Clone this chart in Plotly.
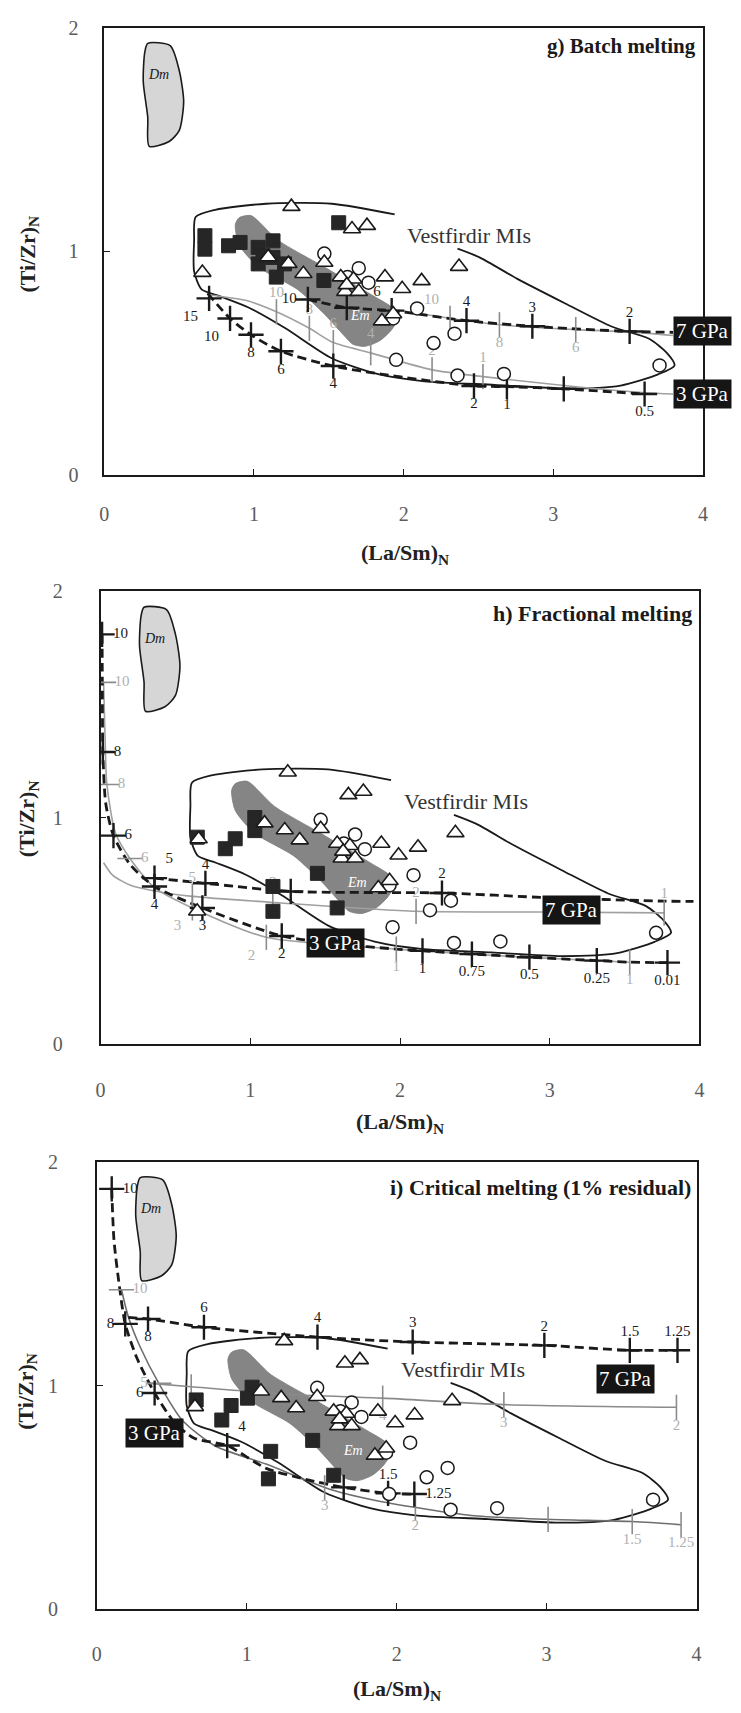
import plotly.graph_objects as go

FONT = "Liberation Serif"
INK = "#1a1a1a"
GREY_LINE = "#a0a0a0"
GREY_TICK = "#8c8c8c"
GREY_TEXT = "#b0b0b0"

# ---------------- fields (same in all three diagrams) ----------------
DM_X = [0.29, 0.44, 0.50, 0.53, 0.50, 0.43, 0.30, 0.29, 0.26, 0.27, 0.29]
DM_Y = [1.93, 1.92, 1.81, 1.67, 1.54, 1.49, 1.47, 1.60, 1.76, 1.89, 1.93]

EM_X = [0.90, 0.98, 1.16, 1.47, 1.80, 1.93, 1.96, 1.92, 1.84, 1.74, 1.66, 1.60, 1.47, 1.29, 1.03, 0.90,
        0.875, 0.90]
EM_Y = [1.15, 1.16, 1.05, 0.93, 0.80, 0.745, 0.70, 0.65, 0.60, 0.575, 0.585, 0.625, 0.72, 0.83, 0.93,
        1.03, 1.12, 1.15]

VEST_X = [1.94, 1.52, 1.08, 0.74, 0.61, 0.60, 0.60, 0.65, 0.77, 0.96, 1.21, 1.52, 1.83, 2.14, 2.61,
          3.08, 3.45, 3.70, 3.81, 3.76, 3.64, 3.39, 3.08, 2.76, 2.51, 2.36]
VEST_Y = [1.165, 1.213, 1.213, 1.186, 1.154, 1.05, 0.91, 0.83, 0.80, 0.75, 0.656, 0.522, 0.451, 0.419, 0.403,
          0.387, 0.40, 0.45, 0.49, 0.545, 0.609, 0.664, 0.767, 0.877, 0.972, 1.012]

# ---------------- melt inclusion data ----------------
TRI_X = [1.25, 1.655, 1.755, 0.655, 1.095, 1.23, 1.33, 1.47, 1.58, 1.665, 1.61, 1.70, 1.875, 1.99, 2.12,
         2.37, 1.855, 1.93, 1.62]
TRI_Y = [1.20, 1.10, 1.115, 0.905, 0.975, 0.945, 0.90, 0.95, 0.885, 0.875, 0.82, 0.82, 0.885, 0.833, 0.868,
         0.932, 0.688, 0.72, 0.85]
TRI_EXTRA_H_X = [0.645]
TRI_EXTRA_H_Y = [0.585]

CIRC_X = [1.47, 1.70, 1.765, 1.625, 2.09, 2.34, 2.20, 1.95, 2.36, 2.67, 3.71, 1.93]
CIRC_Y = [0.99, 0.925, 0.86, 0.885, 0.745, 0.632, 0.59, 0.515, 0.445, 0.452, 0.49, 0.70]

G_SQ_X = [0.672, 0.672, 0.83, 0.907, 1.028, 1.127, 1.028, 1.127, 1.149, 1.204, 1.467, 1.566, 1.06]
G_SQ_Y = [1.07, 1.01, 1.025, 1.04, 1.018, 1.047, 0.944, 0.973, 0.885, 0.944, 0.87, 1.128, 0.98]
H_SQ_X = [0.646, 0.833, 0.899, 1.03, 1.03, 1.151, 1.151, 1.448, 1.58]
H_SQ_Y = [0.913, 0.862, 0.906, 1.00, 0.942, 0.695, 0.585, 0.753, 0.60]
I_SQ_X = [0.663, 0.834, 0.896, 1.036, 1.005, 1.16, 1.145, 1.44, 1.58]
I_SQ_Y = [0.936, 0.846, 0.911, 0.993, 0.944, 0.706, 0.583, 0.755, 0.599]

# ---------------- g) batch melting models ----------------
G_7B_X = [1.36, 1.62, 1.92, 2.42, 2.86, 3.51, 3.80]
G_7B_Y = [0.785, 0.748, 0.735, 0.690, 0.665, 0.642, 0.638]
G_7B_TX = [1.36, 1.62, 1.92, 2.42, 2.86, 3.51]
G_7B_TY = [0.785, 0.748, 0.735, 0.690, 0.665, 0.642]
G_7B_TL = ["10", "", "6", "4", "3", "2"]

G_7G_X = [1.92, 2.31, 2.64, 3.15, 3.51, 3.80]
G_7G_Y = [0.742, 0.700, 0.672, 0.650, 0.640, 0.624]
G_7G_TX = [2.31, 2.64, 3.15]
G_7G_TY = [0.700, 0.672, 0.650]
G_7G_TL = ["10", "8", "6"]

G_3B_X = [0.69, 0.84, 0.98, 1.18, 1.53, 1.86, 2.47, 2.69, 3.07, 3.61]
G_3B_Y = [0.812, 0.700, 0.627, 0.553, 0.487, 0.450, 0.398, 0.395, 0.385, 0.362]
G_3B_TX = [0.70, 0.84, 0.98, 1.18, 1.53, 2.47, 2.69, 3.07, 3.61]
G_3B_TY = [0.790, 0.700, 0.627, 0.553, 0.487, 0.398, 0.395, 0.385, 0.362]
G_3B_TL = ["15", "10", "8", "6", "4", "2", "1", "", "0.5"]

G_3G_X = [0.70, 0.95, 1.15, 1.37, 1.53, 1.78, 2.19, 2.53, 3.07, 3.61, 3.80]
G_3G_Y = [0.805, 0.780, 0.730, 0.656, 0.592, 0.546, 0.470, 0.440, 0.400, 0.368, 0.362]
G_3G_TX = [1.15, 1.37, 1.53, 1.78, 2.19, 2.53]
G_3G_TY = [0.730, 0.656, 0.592, 0.546, 0.470, 0.440]
G_3G_TL = ["10", "8", "6", "4", "2", "1"]

# ---------------- h) fractional melting models ----------------
H_3B_X = [0.010, 0.012, 0.015, 0.035, 0.086, 0.20, 0.36, 0.68, 1.21, 1.60, 1.975, 2.15, 2.48, 2.864,
          3.314, 3.534, 3.786]
H_3B_Y = [1.81, 1.55, 1.29, 1.06, 0.92, 0.79, 0.695, 0.600, 0.476, 0.440, 0.418, 0.410, 0.396, 0.382,
          0.367, 0.360, 0.358]
H_3B_TX = [0.010, 0.015, 0.086, 0.36, 0.68, 1.21, 2.15, 2.48, 2.864, 3.314, 3.786]
H_3B_TY = [1.81, 1.29, 0.92, 0.695, 0.600, 0.476, 0.410, 0.396, 0.382, 0.367, 0.358]
H_3B_TL = ["10", "8", "6", "4", "3", "2", "1", "0.75", "0.5", "0.25", "0.01"]

H_3G_X = [0.020, 0.030, 0.042, 0.10, 0.196, 0.36, 0.613, 1.107, 1.975, 2.90, 3.534]
H_3G_Y = [1.598, 1.35, 1.146, 0.93, 0.819, 0.69, 0.600, 0.470, 0.418, 0.380, 0.360]
H_3G_TX = [0.020, 0.042, 0.196, 0.613, 1.107, 1.975, 3.534]
H_3G_TY = [1.598, 1.146, 0.819, 0.600, 0.470, 0.418, 0.360]
H_3G_TL = ["10", "8", "6", "3", "2", "1", "1"]

H_7B_X = [0.36, 0.70, 1.27, 2.28, 3.00, 3.764, 3.96]
H_7B_Y = [0.732, 0.709, 0.673, 0.666, 0.645, 0.630, 0.629]
H_7B_TX = [0.36, 0.70, 1.27, 2.28]
H_7B_TY = [0.732, 0.709, 0.673, 0.666]
H_7B_TL = ["5", "4", "", "2"]

H_7G_X = [0.02, 0.08, 0.20, 0.36, 0.613, 1.206, 2.107, 2.94, 3.764]
H_7G_Y = [0.80, 0.745, 0.70, 0.675, 0.651, 0.622, 0.585, 0.582, 0.578]
H_7G_TX = [0.613, 1.15, 2.107, 3.764]
H_7G_TY = [0.651, 0.626, 0.585, 0.578]
H_7G_TL = ["5", "3", "2", "1"]

# ---------------- i) critical melting models ----------------
I_3B_X = [0.10, 0.115, 0.15, 0.19, 0.27, 0.386, 0.52, 0.65, 0.87, 1.13, 1.40, 1.647, 1.943, 2.118]
I_3B_Y = [1.88, 1.65, 1.45, 1.276, 1.12, 0.967, 0.834, 0.765, 0.732, 0.63, 0.58, 0.545, 0.518, 0.515]
I_3B_TX = [0.10, 0.19, 0.386, 0.87, 1.647, 1.943, 2.118]
I_3B_TY = [1.88, 1.276, 0.967, 0.732, 0.545, 0.518, 0.515]
I_3B_TL = ["10", "8", "6", "4", "", "1.5", "1.25"]

I_3G_X = [0.165, 0.212, 0.289, 0.414, 0.569, 0.787, 1.129, 1.565, 1.876, 2.498, 2.995, 3.571, 3.897]
I_3G_Y = [1.429, 1.305, 1.174, 1.010, 0.846, 0.731, 0.649, 0.534, 0.484, 0.419, 0.402, 0.392, 0.378]
I_3G_TX = [0.165, 0.414, 1.52, 2.125, 3.01, 3.571, 3.897]
I_3G_TY = [1.429, 1.010, 0.543, 0.452, 0.402, 0.392, 0.378]
I_3G_TL = ["10", "5", "3", "2", "", "1.5", "1.25"]

I_7B_X = [0.21, 0.342, 0.715, 1.472, 2.107, 2.985, 3.555, 3.873]
I_7B_Y = [1.305, 1.298, 1.261, 1.217, 1.195, 1.180, 1.158, 1.158]
I_7B_TX = [0.342, 0.715, 1.472, 2.107, 2.985, 3.555, 3.873]
I_7B_TY = [1.298, 1.261, 1.217, 1.195, 1.180, 1.158, 1.158]
I_7B_TL = ["8", "6", "4", "3", "2", "1.5", "1.25"]

I_7G_X = [0.36, 0.63, 1.30, 1.907, 2.715, 3.866]
I_7G_Y = [1.01, 0.995, 0.96, 0.944, 0.915, 0.903]
I_7G_TX = [0.63, 1.907, 2.715, 3.866]
I_7G_TY = [0.995, 0.944, 0.915, 0.903]
I_7G_TL = ["8", "4", "3", "2"]

AXES_TICKS_X = [0, 1, 2, 3, 4]
AXES_TICKS_Y = [0, 1, 2]

fig = go.Figure()


def add_line(ax, xs, ys, color, width, dash="solid", fill=None, fillcolor=None):
    fig.add_trace(go.Scatter(
        x=xs, y=ys, mode="lines", xaxis=ax[0], yaxis=ax[1],
        line=dict(color=color, width=width, dash=dash, shape="spline", smoothing=0.7),
        fill=fill, fillcolor=fillcolor, hoverinfo="skip", showlegend=False))


def add_ticks(ax, tx, ty, labels, black, symbols, positions):
    color = INK if black else GREY_TICK
    fig.add_trace(go.Scatter(
        x=tx, y=ty, mode="markers", xaxis=ax[0], yaxis=ax[1],
        marker=dict(symbol=symbols, size=18, color=color,
                    line=dict(color=color, width=2.4 if black else 1.6)),
        hoverinfo="skip", showlegend=False))
    if isinstance(positions, str):
        positions = [positions] * len(tx)
    keep = [k for k, lab in enumerate(labels) if lab]
    fig.add_trace(go.Scatter(
        x=[tx[k] for k in keep], y=[ty[k] for k in keep], mode="markers+text",
        xaxis=ax[0], yaxis=ax[1],
        text=[labels[k] for k in keep], textposition=[positions[k] for k in keep],
        textfont=dict(family=FONT, size=15, color=INK if black else GREY_TEXT),
        marker=dict(size=16, color="rgba(0,0,0,0)"),
        hoverinfo="skip", showlegend=False))


def add_points(ax, xs, ys, symbol, size, fill, edge, width):
    fig.add_trace(go.Scatter(
        x=xs, y=ys, mode="markers", xaxis=ax[0], yaxis=ax[1],
        marker=dict(symbol=symbol, size=size, color=fill, line=dict(color=edge, width=width)),
        hoverinfo="skip", showlegend=False))


def add_fields(ax):
    add_line(ax, DM_X, DM_Y, INK, 1.6, fill="toself", fillcolor="#d6d6d6")
    add_line(ax, EM_X, EM_Y, "#7d7d7d", 0.8, fill="toself", fillcolor="#858585")
    add_line(ax, VEST_X, VEST_Y, INK, 1.8)


def add_data(ax, sq_x, sq_y, extra_tri=None):
    add_points(ax, sq_x, sq_y, "square", 14, "#262626", "#262626", 1)
    add_points(ax, CIRC_X, CIRC_Y, "circle", 13, "white", INK, 1.5)
    tx = TRI_X + (extra_tri[0] if extra_tri else [])
    ty = TRI_Y + (extra_tri[1] if extra_tri else [])
    add_points(ax, tx, ty, "triangle-up", 15, "white", INK, 1.6)


DASH = "9px,5px"
g_ax, h_ax, i_ax = ("x", "y"), ("x2", "y2"), ("x3", "y3")

# ---- g) batch melting ----
add_fields(g_ax)
add_line(g_ax, G_3G_X, G_3G_Y, GREY_LINE, 1.6)
add_line(g_ax, G_7G_X, G_7G_Y, GREY_LINE, 1.6)
add_line(g_ax, G_3B_X, G_3B_Y, INK, 2.8, dash=DASH)
add_line(g_ax, G_7B_X, G_7B_Y, INK, 2.8, dash=DASH)
add_ticks(g_ax, G_3G_TX, G_3G_TY, G_3G_TL, False, "line-ns", "top center")
add_ticks(g_ax, G_7G_TX, G_7G_TY, G_7G_TL, False, "line-ns",
          ["top left", "bottom center", "bottom center"])
add_ticks(g_ax, G_3B_TX, G_3B_TY, G_3B_TL, True, "cross-thin",
          ["bottom left", "bottom left"] + ["bottom center"] * 7)
add_ticks(g_ax, G_7B_TX, G_7B_TY, G_7B_TL, True, "cross-thin",
          ["middle left", "top center", "top left", "top center", "top center", "top center"])
add_data(g_ax, G_SQ_X, G_SQ_Y)

# ---- h) fractional melting ----
add_fields(h_ax)
add_line(h_ax, H_3G_X, H_3G_Y, GREY_LINE, 1.6)
add_line(h_ax, H_7G_X, H_7G_Y, GREY_LINE, 1.6)
add_line(h_ax, H_3B_X, H_3B_Y, INK, 2.8, dash=DASH)
add_line(h_ax, H_7B_X, H_7B_Y, INK, 2.8, dash=DASH)
add_ticks(h_ax, H_3G_TX, H_3G_TY, H_3G_TL, False,
          ["line-ew", "line-ew", "line-ew", "line-ns", "line-ns", "line-ns", "line-ns"],
          ["middle right", "middle right", "middle right", "bottom left", "bottom left",
           "bottom center", "bottom center"])
add_ticks(h_ax, H_7G_TX, H_7G_TY, H_7G_TL, False, "line-ns", "top center")
add_ticks(h_ax, H_3B_TX, H_3B_TY, H_3B_TL, True, "cross-thin",
          ["middle right", "middle right", "middle right"] + ["bottom center"] * 8)
add_ticks(h_ax, H_7B_TX, H_7B_TY, H_7B_TL, True, "cross-thin",
          ["top right", "top center", "top center", "top center"])
add_data(h_ax, H_SQ_X, H_SQ_Y, (TRI_EXTRA_H_X, TRI_EXTRA_H_Y))

# ---- i) critical melting ----
add_fields(i_ax)
add_line(i_ax, I_3G_X, I_3G_Y, "#6e6e6e", 1.6)
add_line(i_ax, I_7G_X, I_7G_Y, "#8a8a8a", 1.6)
add_line(i_ax, I_3B_X, I_3B_Y, INK, 2.8, dash=DASH)
add_line(i_ax, I_7B_X, I_7B_Y, INK, 2.8, dash=DASH)
add_ticks(i_ax, I_3G_TX, I_3G_TY, I_3G_TL, False,
          ["line-ew", "line-ew", "line-ns", "line-ns", "line-ns", "line-ns", "line-ns"],
          ["middle right", "middle left", "bottom center", "bottom center", "bottom center",
           "bottom center", "bottom center"])
add_ticks(i_ax, I_7G_TX, I_7G_TY, I_7G_TL, False, "line-ns", "bottom center")
add_ticks(i_ax, I_3B_TX, I_3B_TY, I_3B_TL, True, "cross-thin",
          ["middle right", "middle left", "middle left", "top right", "top center",
           "top center", "middle right"])
add_ticks(i_ax, I_7B_TX, I_7B_TY, I_7B_TL, True, "cross-thin",
          ["bottom center"] + ["top center"] * 6)
add_data(i_ax, I_SQ_X, I_SQ_Y)

# ---------------- axes ----------------
W, H = 741, 1713
PANEL_BOXES = {  # left, right, top, bottom in page pixels
    "g": (100.7, 707.5, 17, 470),
    "h": (96.9, 704, 588, 1046),
    "i": (93, 701, 1166, 1619),
}


def axis_style(rng, tickvals, standoff):
    return dict(range=rng, tickvals=tickvals, ticks="inside", ticklen=6, tickwidth=1.4,
                tickcolor=INK, showline=True, mirror=True, linecolor=INK, linewidth=1.6,
                showgrid=False, zeroline=False, ticklabelstandoff=standoff,
                tickfont=dict(family=FONT, size=20, color="#5c5c5c"))


layout = dict(width=W, height=H, margin=dict(l=0, r=0, t=0, b=0),
              paper_bgcolor="white", plot_bgcolor="white", showlegend=False)
stand = {"g": (20, 20), "h": (28, 32), "i": (26, 33)}
for k, (key, (l, r, t, b)) in enumerate(PANEL_BOXES.items()):
    sfx = "" if k == 0 else str(k + 1)
    layout["xaxis" + sfx] = dict(domain=[l / W, r / W], anchor="y" + sfx,
                                 **axis_style([0, 4], AXES_TICKS_X, stand[key][0]))
    layout["yaxis" + sfx] = dict(domain=[1 - b / H, 1 - t / H], anchor="x" + sfx,
                                 **axis_style([0, 2], AXES_TICKS_Y, stand[key][1]))
fig.update_layout(**layout)

ann = []


def note(ax, x, y, text, size, color=INK, bold=False, italic=False, xanchor="center", bg=None):
    t = text
    if bold:
        t = "<b>" + t + "</b>"
    if italic:
        t = "<i>" + t + "</i>"
    d = dict(xref=ax[0], yref=ax[1], x=x, y=y, text=t, showarrow=False, xanchor=xanchor,
             yanchor="middle", font=dict(family=FONT, size=size, color=color))
    if bg:
        d.update(bgcolor=bg, borderpad=2)
    ann.append(d)


for ax in (g_ax, h_ax, i_ax):
    note(ax, 0.36, 1.79, "Dm", 14, italic=True)
    note(ax, 1.71, 0.712, "Em", 14, color="white", italic=True)
    note(ax, 2.44, 1.072, "Vestfirdir MIs", 22, color="#333333")

note(g_ax, 3.965, 1.92, "g) Batch melting", 21, bold=True, xanchor="right")
note(h_ax, 3.966, 1.903, "h) Fractional melting", 22, bold=True, xanchor="right")
note(i_ax, 3.974, 1.888, "i) Critical melting (1% residual)", 22, bold=True, xanchor="right")

# pressure labels
note(g_ax, 4.0, 0.646, "7 GPa", 21, color="white", bg="#151515")
note(g_ax, 4.0, 0.36, "3 GPa", 21, color="white", bg="#151515")
note(h_ax, 3.143, 0.593, "7 GPa", 21, color="white", bg="#151515")
note(h_ax, 1.568, 0.447, "3 GPa", 21, color="white", bg="#151515")
note(i_ax, 3.526, 1.031, "7 GPa", 21, color="white", bg="#151515")
note(i_ax, 0.385, 0.786, "3 GPa", 21, color="white", bg="#151515")

# axis titles
TITLE_POS = {"g": ((405, 550), (24, 246)), "h": ((400, 1126), (24, 818)), "i": ((397, 1701), (22, 1398))}
for key, ((xx, xy), (yx, yy)) in TITLE_POS.items():
    ann.append(dict(xref="paper", yref="paper", x=xx / W, y=1 - xy / H, showarrow=False,
                    xanchor="center", yanchor="middle",
                    text="<b>(La/Sm)<sub>N</sub></b>",
                    font=dict(family=FONT, size=22, color="#222222")))
    ann.append(dict(xref="paper", yref="paper", x=yx / W, y=1 - yy / H, showarrow=False,
                    xanchor="center", yanchor="middle",
                    text="<b>(Ti/Zr)<sub>N</sub></b>", textangle=-90,
                    font=dict(family=FONT, size=22, color="#222222")))

fig.update_layout(annotations=ann)
fig.write_html("out.html")
